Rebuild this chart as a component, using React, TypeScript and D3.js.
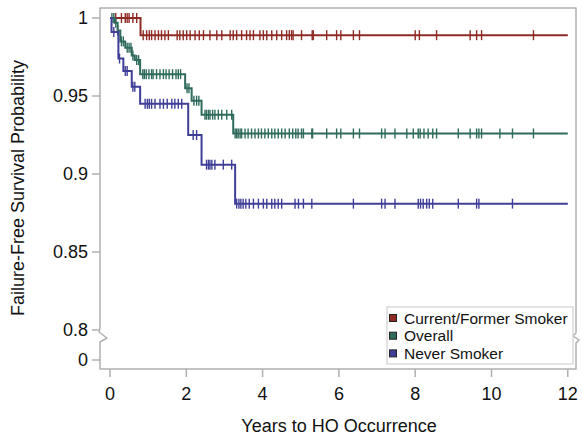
import React from "react";
import * as d3 from "d3";

const xTicks = [0, 2, 4, 6, 8, 10, 12];
const yTicks = [1, 0.95, 0.9, 0.85, 0.8];
const yTickLabels = ["1", "0.95", "0.9", "0.85", "0.8"];

// step curves: [time, survival]
const smokerSteps: [number, number][] = [[0, 1], [0.8, 0.989], [12, 0.989]];
const overallSteps: [number, number][] = [
  [0, 1], [0.12, 0.997], [0.2, 0.992], [0.27, 0.985], [0.4, 0.981], [0.57, 0.976],
  [0.65, 0.973], [0.79, 0.964], [1.97, 0.955], [2.14, 0.947], [2.4, 0.938], [3.23, 0.926], [12, 0.926],
];
const neverSteps: [number, number][] = [
  [0, 1], [0.04, 0.991], [0.22, 0.974], [0.35, 0.966], [0.57, 0.956], [0.79, 0.945],
  [2.05, 0.925], [2.4, 0.906], [3.28, 0.881], [12, 0.881],
];

const smokerCensor = [0.15, 0.3, 0.4, 0.45, 0.5, 0.6, 0.7,
  0.87, 0.96, 1.03, 1.09, 1.18, 1.27, 1.35, 1.44, 1.53, 1.76, 1.83, 1.92, 2.01, 2.1, 2.23, 2.34, 2.45, 2.62, 2.8, 2.93, 3.15, 3.23, 3.32, 3.45, 3.58, 3.67, 3.76, 3.93, 4.02, 4.11, 4.24, 4.37, 4.5, 4.63,
  4.7, 4.76, 4.8, 5.02, 5.3, 5.33, 5.68, 5.94, 6.05, 6.38, 6.54, 8.0, 8.11, 8.56, 9.44, 9.61, 9.74, 11.1];
const overallCensor = [0.05, 0.1, 0.15, 0.2, 0.3, 0.35, 0.45, 0.5, 0.55, 0.6, 0.7, 0.75,
  0.86, 0.9, 0.95, 1.02, 1.09, 1.13, 1.22, 1.31, 1.4, 1.47, 1.55, 1.64, 1.73, 1.79, 1.85,
  2.02, 2.07, 2.2, 2.27, 2.33, 2.49, 2.53, 2.58, 2.62, 2.69, 2.75, 2.84, 2.93, 3.06, 3.19,
  3.28, 3.32, 3.36, 3.41, 3.45, 3.54, 3.62, 3.71, 3.8, 3.89, 3.97, 4.06, 4.15, 4.24, 4.32, 4.41, 4.5, 4.59,
  4.7, 4.79, 4.87, 4.93, 5.02, 5.07, 5.29, 5.31, 5.68, 5.94, 6.05, 6.38, 6.54, 7.12, 7.21, 7.47, 7.78, 7.95, 8.08, 8.13, 8.23, 8.34, 8.46, 8.56, 9.13, 9.44, 9.61, 9.67, 9.74, 10.22, 10.55, 11.1];
const neverCensor = [0.1, 0.25, 0.4, 0.45, 0.6, 0.65,
  0.92, 0.98, 1.03, 1.09, 1.18, 1.31, 1.4, 1.5, 1.62, 1.7, 1.79, 1.88,
  2.18, 2.27, 2.53, 2.58, 2.62, 2.67, 2.75, 2.97, 3.19,
  3.32, 3.38, 3.43, 3.49, 3.56, 3.65, 3.76, 3.89, 4.02, 4.11, 4.24, 4.32, 4.41, 4.5,
  4.85, 4.94, 5.07, 5.29, 6.38, 7.12, 7.21, 7.47, 8.08, 8.14, 8.21, 8.3, 8.37, 8.46, 9.13, 9.61, 9.67, 10.55];

const seriesNames = ["Current/Former Smoker", "Overall", "Never Smoker"];
const colors = ["#8E2B24", "#2F6B5C", "#3F3F98"];

const x = d3.scaleLinear().domain([0, 12]).range([110, 567.8]);
const y = d3.scaleLinear().domain([0.8, 1]).range([330, 18]);
const yZero = 360;

const L = 100, R = 576, T = 8, B = 369;
const font = "Arial, 'Liberation Sans', Helvetica, sans-serif";
const frameColor = "#b0b0b0";

function survAt(steps: [number, number][], t: number) {
  let v = steps[0][1];
  for (const [tt, s] of steps) if (tt <= t) v = s;
  return v;
}

export default function App() {
  const line = d3.line<[number, number]>().x(d => x(d[0])).y(d => y(d[1])).curve(d3.curveStepAfter);
  const all = [
    { steps: smokerSteps, censor: smokerCensor },
    { steps: overallSteps, censor: overallCensor },
    { steps: neverSteps, censor: neverCensor },
  ];
  return (
    <svg width={582} height={436} style={{ position: "absolute", left: 0, top: 0, background: "#fff" }} fontFamily={font}>
      {/* frame with axis breaks */}
      <path d={`M${L},328V${T}H${R}V333l-3,3l6,4l-3,3V${B}H${L}V342l7,-4l-8,-6l1,-4`} fill="none" stroke={frameColor} strokeWidth={1.5} strokeLinejoin="round" />
      {/* y ticks */}
      {yTicks.map((v, i) => (
        <g key={i}>
          <line x1={92} x2={L} y1={y(v)} y2={y(v)} stroke={frameColor} strokeWidth={1.5} />
          <text x={88} y={y(v)} dy="0.35em" textAnchor="end" fontSize={18} fill="#111">{yTickLabels[i]}</text>
        </g>
      ))}
      <line x1={92} x2={L} y1={yZero} y2={yZero} stroke={frameColor} strokeWidth={1.5} />
      <text x={88} y={yZero} dy="0.35em" textAnchor="end" fontSize={18} fill="#111">0</text>
      {/* x ticks */}
      {xTicks.map(t => (
        <g key={t}>
          <line x1={x(t)} x2={x(t)} y1={B} y2={377} stroke={frameColor} strokeWidth={1.5} />
          <text x={x(t)} y={400} textAnchor="middle" fontSize={18} fill="#111">{t}</text>
        </g>
      ))}
      <text x={339} y={432} textAnchor="middle" fontSize={18} fill="#111">Years to HO Occurrence</text>
      <text transform="translate(24,188) rotate(-90)" textAnchor="middle" fontSize={18} fill="#111">Failure-Free Survival Probability</text>
      {/* curves */}
      {all.map((s, i) => (
        <g key={i}>
          <path d={line(s.steps) || ""} fill="none" stroke={colors[i]} strokeWidth={2} />
          {s.censor.map((t, j) => (
            <line key={j} x1={x(t)} x2={x(t)} y1={y(survAt(s.steps, t)) - 5} y2={y(survAt(s.steps, t)) + 5} stroke={colors[i]} strokeWidth={1.4} />
          ))}
        </g>
      ))}
      {/* legend */}
      <rect x={387} y={307} width={186} height={57} fill="#fff" stroke="#c8c8c8" strokeWidth={1} />
      {seriesNames.map((n, i) => (
        <g key={n}>
          <rect x={389.5} y={314.5 + i * 17.7} width={7} height={7} fill={colors[i]} stroke="#222" strokeWidth={1} />
          <text x={404} y={318 + i * 17.7} dy="0.36em" fontSize={15.5} fill="#111">{n}</text>
        </g>
      ))}
    </svg>
  );
}
